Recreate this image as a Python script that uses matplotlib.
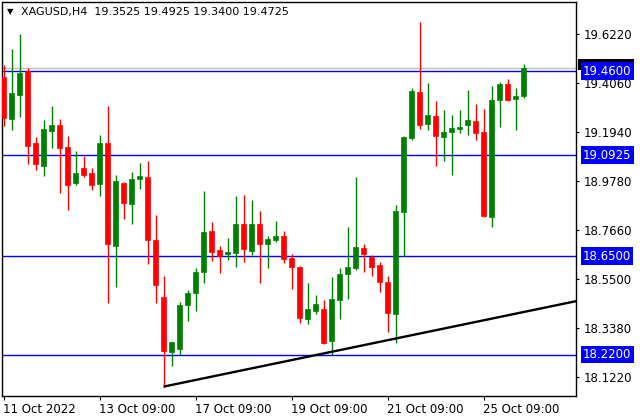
import numpy as np
import matplotlib
matplotlib.use("Agg")
import matplotlib.pyplot as plt
import matplotlib.transforms as mtransforms
import matplotlib.patches as mpatches

# XAGUSD H4 candles
opens = [19.435, 19.249, 19.355, 19.460, 19.144, 19.046, 19.199, 19.224, 19.129, 18.972,
         19.035, 19.014, 18.966, 19.144, 18.696, 18.972, 18.879, 18.988, 18.997, 18.721,
         18.472, 18.233, 18.246, 18.437, 18.491, 18.583, 18.761, 18.677, 18.661, 18.663,
         18.791, 18.675, 18.791, 18.705, 18.723, 18.739, 18.643, 18.603, 18.377, 18.412,
         18.420, 18.281, 18.460, 18.573, 18.598, 18.686, 18.648, 18.613, 18.538, 18.399,
         18.845, 19.169, 19.368, 19.230, 19.264, 19.172, 19.193, 19.208, 19.225, 19.242,
         19.193, 18.823, 19.335, 19.403, 19.339, 19.3525]
highs = [19.487, 19.556, 19.622, 19.472, 19.173, 19.246, 19.307, 19.250, 19.176, 19.110,
         19.090, 19.036, 19.180, 19.307, 19.005, 18.975, 19.019, 19.058, 19.067, 18.830,
         18.564, 18.275, 18.452, 18.503, 18.597, 18.937, 18.800, 18.695, 18.731, 18.914,
         18.918, 18.896, 18.848, 18.739, 18.804, 18.761, 18.660, 18.606, 18.535, 18.481,
         18.459, 18.558, 18.597, 18.779, 18.998, 18.703, 18.656, 18.626, 18.564, 18.874,
         19.176, 19.387, 19.675, 19.408, 19.330, 19.290, 19.268, 19.290, 19.377, 19.316,
         19.296, 19.395, 19.413, 19.425, 19.386, 19.4925]
lows = [19.220, 19.202, 19.260, 19.054, 19.027, 19.002, 19.125, 18.928, 18.852, 18.962,
        18.998, 18.940, 18.914, 18.447, 18.517, 18.813, 18.791, 18.944, 18.616, 18.447,
        18.080, 18.172, 18.218, 18.368, 18.412, 18.535, 18.630, 18.578, 18.634, 18.605,
        18.625, 18.656, 18.535, 18.600, 18.714, 18.622, 18.506, 18.357, 18.354, 18.398,
        18.268, 18.218, 18.376, 18.463, 18.590, 18.583, 18.564, 18.494, 18.320, 18.272,
        18.651, 19.159, 19.208, 19.202, 19.046, 19.068, 19.007, 19.188, 19.182, 19.159,
        18.821, 18.779, 19.217, 19.330, 19.202, 19.3400]
closes = [19.253, 19.363, 19.450, 19.134, 19.052, 19.205, 19.224, 19.125, 18.962, 19.013,
          19.005, 18.962, 19.144, 18.703, 18.979, 18.882, 18.988, 19.001, 18.721, 18.525,
          18.236, 18.275, 18.436, 18.488, 18.581, 18.756, 18.670, 18.653, 18.669, 18.791,
          18.681, 18.791, 18.705, 18.726, 18.739, 18.637, 18.602, 18.382, 18.420, 18.441,
          18.272, 18.463, 18.573, 18.603, 18.691, 18.660, 18.605, 18.539, 18.402, 18.848,
          19.173, 19.374, 19.225, 19.268, 19.177, 19.193, 19.212, 19.217, 19.246, 19.190,
          18.826, 19.335, 19.403, 19.333, 19.351, 19.4725]

levels = [19.4600, 19.0925, 18.6500, 18.2200]
bid = 19.4725
trend_x = [20, 71.6]
trend_y = [18.080, 18.454]

ytick_vals = [19.622, 19.406, 19.194, 18.978, 18.766, 18.550, 18.338, 18.122]
xtick_pos = [0, 12, 24, 36, 48, 60]
xtick_labels = ["11 Oct 2022", "13 Oct 09:00", "17 Oct 09:00",
                "19 Oct 09:00", "21 Oct 09:00", "25 Oct 09:00"]
title = "XAGUSD,H4  19.3525 19.4925 19.3400 19.4725"

up_col = "#008000"
dn_col = "#ff0000"

fig = plt.figure(figsize=(6.4, 4.2), dpi=100)
ax = fig.add_axes([2/640, 24/420, 574/640, 394/420])

idx = np.arange(len(opens))
o = np.array(opens); h = np.array(highs); l = np.array(lows); c = np.array(closes)
cols = np.where(c >= o, up_col, dn_col)

# wicks
ax.vlines(idx, l, h, colors=cols, linewidth=1.0, zorder=3)
# bodies (min height so dojis still show)
bottom = np.minimum(o, c)
height = np.maximum(np.abs(c - o), 0.004)
ax.bar(idx, height, bottom=bottom, width=0.62, color=cols, edgecolor=cols,
       linewidth=0.5, zorder=4)

# horizontal levels and bid line
ax.axhline(bid, color="#c0c0c0", linewidth=1.0, zorder=1)
for lv in levels:
    ax.axhline(lv, color="#0000ff", linewidth=1.0, zorder=2)

# trend line
ax.plot(trend_x, trend_y, color="black", linewidth=1.7, zorder=5,
        solid_capstyle="butt")

ax.set_xlim(-0.19, 71.56)
ax.set_ylim(18.039, 19.762)

ax.yaxis.tick_right()
ax.set_yticks(ytick_vals)
ax.set_yticklabels(["%.4f" % v for v in ytick_vals])
ax.set_xticks(xtick_pos)
ax.set_xticklabels(xtick_labels, ha="left")
ax.tick_params(axis="y", direction="out", length=2.5, width=0.8, pad=3,
               labelsize=8.5, colors="black")
ax.tick_params(axis="x", direction="out", length=3, width=0.8, pad=2,
               labelsize=8.5, colors="black")
offset = mtransforms.ScaledTranslation(-0.5/72, 0, fig.dpi_scale_trans)
for lab in ax.get_xticklabels():
    lab.set_transform(lab.get_transform() + offset)

for s in ax.spines.values():
    s.set_linewidth(1.0)
    s.set_color("black")

# bid price box, mostly hidden behind the 19.4600 label
trans = mtransforms.blended_transform_factory(ax.transAxes, ax.transData)
ax.add_patch(mpatches.Rectangle((1.0035, bid - 0.01), 0.098, 0.052,
                                transform=trans, fc="black", ec="none",
                                clip_on=False, zorder=6))
# price labels of the levels on the right scale
for lv in levels:
    ax.text(1.012, lv, "%.4f" % lv, transform=trans, color="white",
            fontsize=8.5, va="center", ha="left", clip_on=False, zorder=7,
            bbox=dict(boxstyle="square,pad=0.2", fc="#0000ff", ec="none"))

# header
fig.text(7/640, 1 - 12/420, "\u25BC", fontsize=6, va="center", ha="left")
fig.text(21/640, 1 - 12/420, title, fontsize=8, va="center", ha="left")

fig.savefig("out.png", dpi=100, facecolor="white")
